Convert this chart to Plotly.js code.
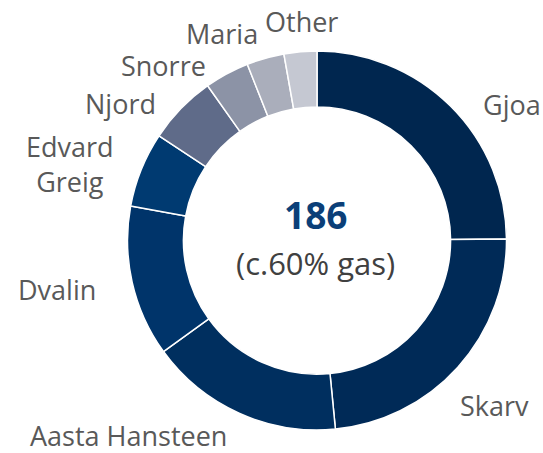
<!DOCTYPE html>
<html>
<head>
<meta charset="utf-8">
<script src="https://cdn.plot.ly/plotly-3.0.1.min.js"></script>
<style>html,body{margin:0;padding:0;background:#fff;}#chart{width:543px;height:453px;}</style>
</head>
<body>
<div id="chart"></div>
<script>
// Data (share of production, %)
const fields = ["Gjoa", "Skarv", "Aasta Hansteen", "Dvalin", "Edvard Greig", "Njord", "Snorre", "Maria", "Other"];
const shares = [24.9, 23.6, 16.6, 12.9, 6.4, 5.9, 3.8, 3.2, 2.8];
const labelText = ["Gjoa", "Skarv", "Aasta Hansteen", "Dvalin", "Edvard<br>Greig", "Njord", "Snorre", "Maria", "Other"];
const totalText = "186";
const subText = "(c.60% gas)";

// Styles / layout
const colors = ["#00264F", "#002A57", "#002F5F", "#00346A", "#003A71", "#5F6B89", "#8C93A6", "#AAAEBB", "#C5C8D2"];
const W = 543, H = 453;
const labelPx = [[512, 104], [494, 405], [128, 435], [57, 289], [70, 164], [120, 103], [163, 66], [222, 34], [301, 21]];
const FONT = "'Open Sans', sans-serif";

const trace = {
  type: "pie",
  labels: fields,
  values: shares,
  sort: false,
  direction: "clockwise",
  rotation: 0,
  hole: 0.705,
  textinfo: "none",
  hoverinfo: "label+percent",
  marker: { colors: colors, line: { color: "#ffffff", width: 1.5 } },
  domain: { x: [127.5 / W, 506.5 / W], y: [1 - 430 / H, 1 - 51 / H] },
  showlegend: false
};

const annotations = labelText.map((t, i) => ({
  text: t,
  x: labelPx[i][0] / W,
  y: 1 - labelPx[i][1] / H,
  xref: "paper", yref: "paper",
  xanchor: "center", yanchor: "middle",
  showarrow: false,
  font: { family: FONT, size: 27, color: "#595959" }
}));
annotations.push({
  text: "<b>" + totalText + "</b>", x: 315 / W, y: 1 - 214 / H, xref: "paper", yref: "paper",
  xanchor: "center", yanchor: "middle", showarrow: false,
  font: { family: FONT, size: 37, color: "#0B3F78" }
});
annotations.push({
  text: subText, x: 315 / W, y: 1 - 263 / H, xref: "paper", yref: "paper",
  xanchor: "center", yanchor: "middle", showarrow: false,
  font: { family: FONT, size: 31, color: "#404040" }
});

const layout = {
  width: W, height: H,
  margin: { l: 0, r: 0, t: 0, b: 0 },
  paper_bgcolor: "#ffffff",
  annotations: annotations
};

Plotly.newPlot("chart", [trace], layout, { displayModeBar: false, staticPlot: true });
</script>
</body>
</html>
